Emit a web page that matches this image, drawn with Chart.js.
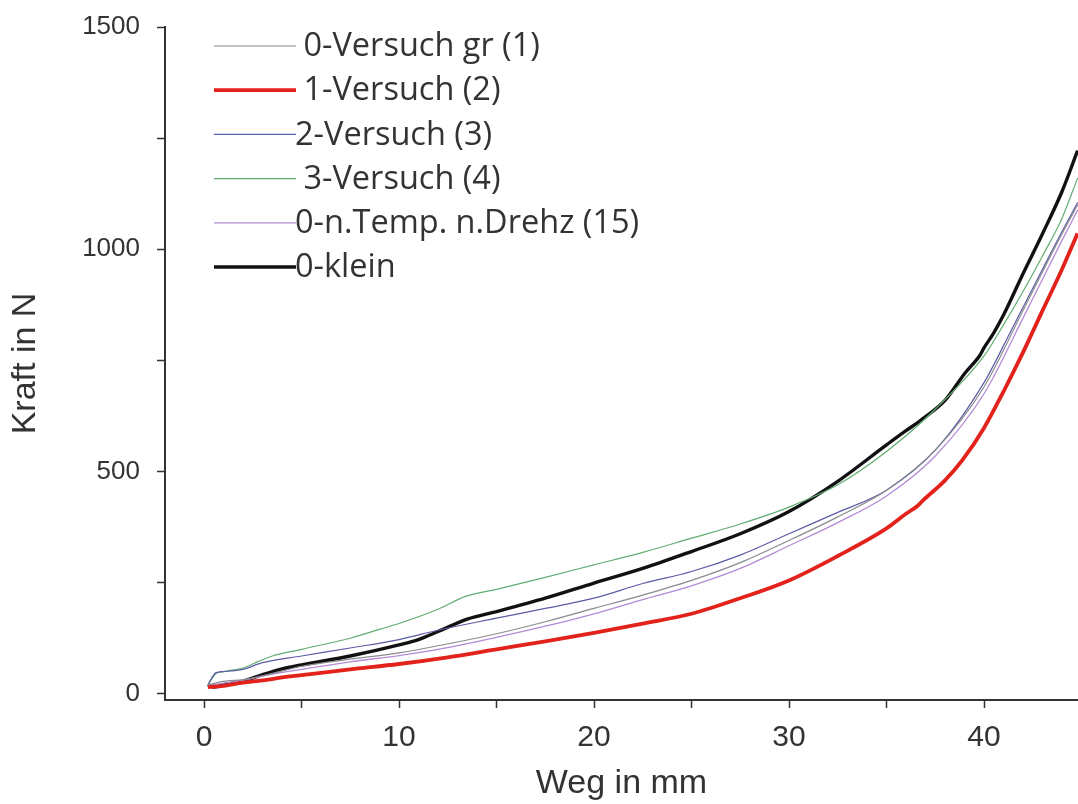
<!DOCTYPE html>
<html>
<head>
<meta charset="utf-8">
<script src="https://cdn.jsdelivr.net/npm/chart.js@4.4.1/dist/chart.umd.min.js"></script>
<style>
  html, body { margin: 0; padding: 0; background: #fff; overflow: hidden; }
  #wrap { width: 1078px; height: 804px; position: relative; }
</style>
</head>
<body>
<div id="wrap"><canvas id="c" width="1078" height="804"></canvas></div>
<script>
// Kraft-Weg-Kurven (Weg in mm, Kraft in N)
const labels = [' 0-Versuch gr (1)', ' 1-Versuch (2)', '2-Versuch (3)', ' 3-Versuch (4)', '0-n.Temp. n.Drehz (15)', '0-klein'];

const wegGr   = [0.2, 1, 2, 3, 5, 7.5, 10, 12, 15, 17.5, 20, 22.5, 25, 27.5, 30, 32.5, 35, 37.5, 40, 42, 44, 44.8];
const kraftGr = [20, 28, 32, 40, 62, 78, 92, 108, 135, 162, 192, 222, 255, 295, 345, 398, 458, 548, 690, 862, 1035, 1100];

const weg1   = [0.2, 1, 2, 3, 4.4, 5, 7.5, 10, 12.5, 15, 17.5, 20, 22.5, 25, 27.5, 30, 32.5, 35, 36, 36.6, 36.8, 38, 38.9, 40, 41, 42, 43, 44, 44.8];
const kraft1 = [15, 18, 25, 30, 39, 42, 55, 67, 82, 100, 118, 137, 158, 180, 215, 255, 310, 372, 405, 423, 432, 480, 526, 598, 680, 768, 862, 955, 1036];

const weg2   = [0.2, 0.6, 1, 2, 3, 5, 7.5, 10, 12, 15, 17.5, 20, 22.5, 25, 27.5, 30, 32.5, 35, 37.5, 40, 41.4, 43, 44, 44.8];
const kraft2 = [20, 47, 50, 55, 70, 85, 103, 122, 143, 170, 192, 215, 248, 275, 312, 360, 408, 458, 548, 700, 818, 955, 1040, 1105];

const weg3   = [0.2, 0.6, 1, 2, 2.8, 3.5, 5, 7.5, 9, 10, 12, 13.4, 15, 17.5, 20, 22.5, 25, 27.5, 30, 32.5, 35, 37.5, 40, 41, 42, 43, 44, 44.8];
const kraft3 = [20, 45, 50, 58, 73, 85, 100, 125, 145, 158, 190, 219, 235, 262, 290, 318, 350, 382, 420, 470, 545, 640, 760, 830, 905, 985, 1070, 1160];

const wegT   = [0.2, 1, 2, 3, 5, 7.5, 10, 12, 15, 17.5, 20, 22.5, 25, 27.5, 30, 32.5, 35, 37.5, 40, 42, 44, 44.8];
const kraftT = [18, 24, 30, 40, 55, 72, 86, 100, 127, 152, 180, 212, 243, 282, 333, 385, 445, 535, 675, 845, 1020, 1088];

const wegK   = [0.2, 0.5, 1, 2, 3, 4, 5, 7.5, 10, 11, 12, 13.5, 15, 17.5, 20, 22.5, 25, 27.5, 30, 32.5, 35, 36, 36.6, 36.9, 38, 39, 39.8, 40, 40.5, 41, 42, 43, 44, 44.8];
const kraftK = [20, 15, 20, 28, 43, 56, 65, 85, 110, 122, 140, 168, 185, 215, 249, 282, 320, 360, 410, 478, 560, 592, 610, 620, 660, 720, 762, 778, 812, 852, 945, 1035, 1130, 1222];

const xTicks = [0, 5, 10, 15, 20, 25, 30, 35, 40];
const yTicks = [0, 250, 500, 750, 1000, 1250, 1500];

const pts = (xs, ys) => xs.map((x, i) => ({ x, y: ys[i] }));

const styles = [
  { color: '#8a8a8f', width: 1.2 },
  { color: '#e3221b', width: 3.8 },
  { color: '#5c5ca6', width: 1.2 },
  { color: '#62ad72', width: 1.2 },
  { color: '#b48ad6', width: 1.3 },
  { color: '#111111', width: 3.4 }
];
const series = [[wegGr, kraftGr], [weg1, kraft1], [weg2, kraft2], [weg3, kraft3], [wegT, kraftT], [wegK, kraftK]];

const datasets = series.map((s, i) => ({
  label: labels[i],
  data: pts(s[0], s[1]),
  showLine: true,
  borderColor: styles[i].color,
  borderWidth: styles[i].width,
  pointRadius: 0,
  cubicInterpolationMode: 'monotone',
  fill: false
}));

// Legend drawn as a plain key in the upper-left of the plot
const keyPlugin = {
  id: 'seriesKey',
  afterDraw(chart) {
    const ctx = chart.ctx;
    ctx.save();
    ctx.font = '32.5px "Open Sans"';
    ctx.textBaseline = 'middle';
    ctx.textAlign = 'left';
    chart.data.datasets.forEach((ds, i) => {
      const y = 46 + i * 44.2;
      ctx.strokeStyle = ds.borderColor;
      ctx.lineWidth = ds.borderWidth;
      ctx.beginPath();
      ctx.moveTo(214, y);
      ctx.lineTo(296, y);
      ctx.stroke();
      ctx.fillStyle = '#333';
      ctx.fillText(ds.label, 295, y + 1);
    });
    ctx.restore();
  }
};

new Chart(document.getElementById('c'), {
  type: 'scatter',
  data: { datasets },
  plugins: [keyPlugin],
  options: {
    responsive: false,
    animation: false,
    layout: { padding: { top: 27, right: 0, left: 0, bottom: 0 } },
    plugins: { legend: { display: false }, tooltip: { enabled: false } },
    scales: {
      x: {
        type: 'linear',
        min: -2,
        max: 44.82,
        afterBuildTicks: s => { s.ticks = xTicks.map(v => ({ value: v })); },
        afterFit: s => { s.height = 104; },
        grid: { drawOnChartArea: false, drawTicks: true, tickLength: 8, tickColor: '#333', tickWidth: 1.5 },
        border: { color: '#333', width: 2 },
        ticks: {
          autoSkip: false, maxRotation: 0, padding: 12,
          color: '#333',
          font: { family: '"Liberation Sans", Arial, sans-serif', size: 30 },
          callback: v => (v % 10 === 0 ? String(v) : '')
        },
        title: {
          display: true, text: 'Weg in mm', color: '#333',
          font: { family: '"Liberation Sans", Arial, sans-serif', size: 34 },
          padding: { top: 0, bottom: 0 }
        }
      },
      y: {
        type: 'linear',
        min: -14,
        max: 1500,
        afterBuildTicks: s => { s.ticks = yTicks.map(v => ({ value: v })); },
        afterFit: s => { s.width = 165; s.paddingTop = 0; s.paddingBottom = 0; },
        grid: { drawOnChartArea: false, drawTicks: true, tickLength: 8, tickColor: '#333', tickWidth: 1.5 },
        border: { color: '#333', width: 2 },
        ticks: {
          autoSkip: false, padding: 17,
          color: '#333',
          font: { family: '"Liberation Sans", Arial, sans-serif', size: 26 },
          callback: v => (v % 500 === 0 ? String(v) : '')
        },
        title: {
          display: true, text: 'Kraft in N', color: '#333',
          font: { family: '"Liberation Sans", Arial, sans-serif', size: 34 },
          padding: { top: 5, bottom: 0 }
        }
      }
    }
  }
});
</script>
</body>
</html>
